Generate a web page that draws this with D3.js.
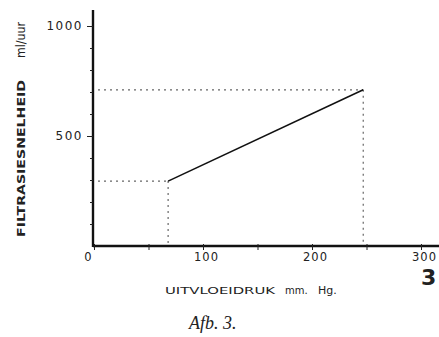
<!DOCTYPE html>
<html>
<head>
<meta charset="utf-8">
<script src="https://cdn.jsdelivr.net/npm/d3@7"></script>
<style>
  body { margin: 0; background: #fff; }
  text { fill: #222; }
</style>
</head>
<body>
<script>
let width = 439, height = 337

// data
let drukValues = [68, 247]          // mm Hg
let filtrasieValues = [295, 710]    // ml/uur
let xTickValues = [0, 50, 100, 150, 200, 250, 300]
let xLabels = [0, 100, 200, 300]
let yTickValues = [100, 200, 300, 400, 500, 600, 700, 800, 900, 1000]
let yLabels = [500, 1000]

let points = drukValues.map((d, i) => ({x: d, y: filtrasieValues[i]}))

let x = d3.scaleLinear().domain([0, 300]).range([94, 421])
let y = d3.scaleLinear().domain([0, 1000]).range([246, 26])

let svg = d3.select('body').append('svg')
    .attr('width', width)
    .attr('height', height)

let font = 'DejaVu Sans'

// dotted guide lines
let guides = svg.append('g')
    .attr('stroke', '#666')
    .attr('stroke-width', 1.2)
    .attr('stroke-dasharray', '2,4')
points.forEach(p => {
    guides.append('line')
        .attr('x1', x(0) + 4).attr('y1', y(p.y))
        .attr('x2', x(p.x)).attr('y2', y(p.y))
    guides.append('line')
        .attr('x1', x(p.x)).attr('y1', y(p.y))
        .attr('x2', x(p.x)).attr('y2', y(0))
})

// x axis
let xAxis = svg.append('g')
    .attr('transform', `translate(0,${y(0)})`)
    .call(d3.axisBottom(x).tickValues(xTickValues).tickSize(4).tickSizeOuter(0)
        .tickFormat(d => xLabels.includes(d) ? d : ''))
xAxis.select('.domain').attr('d', `M${x(0) - 1},0H${width}`).attr('stroke-width', 2.4).attr('stroke', '#111')
xAxis.selectAll('.tick line').attr('y1', -2).attr('stroke', '#222')
xAxis.selectAll('.tick text')
    .attr('font-family', font).attr('font-size', 11.5).attr('letter-spacing', 1)
    .attr('dy', '0.9em').attr('y', 5)
    .attr('dx', d => d == 0 ? -6 : 3)

// y axis
let yAxis = svg.append('g')
    .attr('transform', `translate(${x(0) - 1},0)`)
    .call(d3.axisLeft(y).tickValues(yTickValues).tickSizeOuter(0)
        .tickSize(4).tickFormat(d => yLabels.includes(d) ? d : ''))
yAxis.select('.domain').attr('d', `M0,10V${y(0) + 1}`).attr('stroke-width', 2.4).attr('stroke', '#111')
yAxis.selectAll('.tick line').attr('x2', d => yLabels.includes(d) ? -6 : -3).attr('stroke', '#222')
yAxis.selectAll('.tick text')
    .attr('font-family', font).attr('font-size', 12).attr('letter-spacing', 1.5)
    .attr('x', -10)

// the line
svg.append('path')
    .datum(points)
    .attr('fill', 'none')
    .attr('stroke', '#111')
    .attr('stroke-width', 1.6)
    .attr('d', d3.line().x(d => x(d.x)).y(d => y(d.y)))

// axis titles
svg.append('text')
    .attr('transform', 'translate(25,237) rotate(-90)')
    .attr('font-family', font).attr('font-size', 10).attr('font-weight', 600)
    .attr('textLength', 157).attr('lengthAdjust', 'spacingAndGlyphs')
    .text('FILTRASIESNELHEID')
svg.append('text')
    .attr('transform', 'translate(25,58) rotate(-90)')
    .attr('font-family', font).attr('font-size', 12)
    .attr('textLength', 36).attr('lengthAdjust', 'spacingAndGlyphs')
    .text('ml/uur')

svg.append('text')
    .attr('x', 165).attr('y', 294)
    .attr('font-family', font).attr('font-size', 9.5)
    .attr('textLength', 110).attr('lengthAdjust', 'spacingAndGlyphs')
    .text('UITVLOEIDRUK')
svg.append('text')
    .attr('x', 285).attr('y', 294)
    .attr('font-family', font).attr('font-size', 10)
    .text('mm.')
svg.append('text')
    .attr('x', 318).attr('y', 294)
    .attr('font-family', font).attr('font-size', 11)
    .text('Hg.')

svg.append('text')
    .attr('x', 421).attr('y', 285)
    .attr('font-family', font).attr('font-size', 22).attr('font-weight', 'bold')
    .text('3')

svg.append('text')
    .attr('x', 189).attr('y', 329)
    .attr('font-family', 'Liberation Serif').attr('font-size', 18).attr('font-style', 'italic')
    .text('Afb. 3.')
</script>
</body>
</html>
